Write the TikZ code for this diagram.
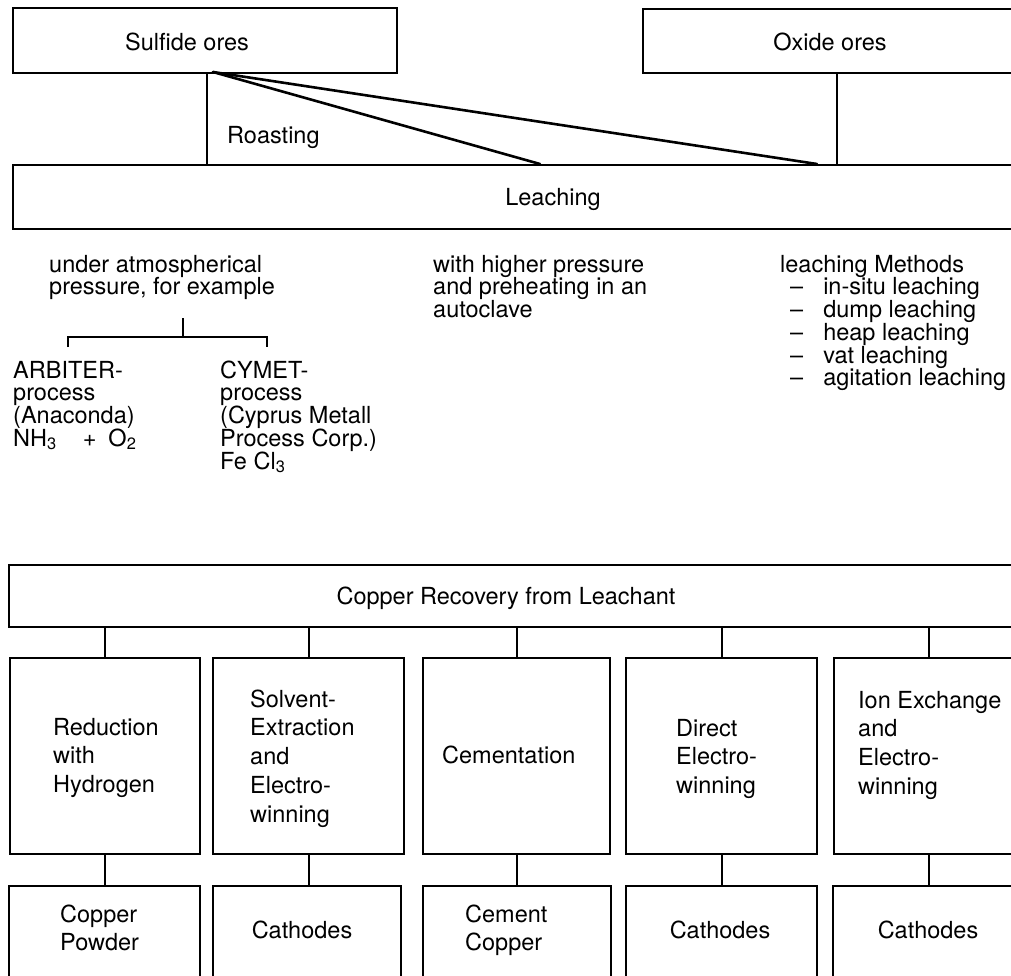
\documentclass[tikz,border=0pt]{standalone}
\usepackage{fontspec}
\setmainfont{TeX Gyre Heros}
\usetikzlibrary{calc}
\begin{document}
\begin{tikzpicture}[x=1pt,y=-1pt,
  box/.style={draw, line width=2.3pt, rectangle, inner sep=0pt, anchor=north west},
  link/.style={line width=2.1pt},
  diag/.style={line width=2.6pt, line cap=round},
  txt/.style={inner sep=0pt, font=\fontsize{23.5}{22.75}\selectfont},
  boxtxt/.style={inner sep=0pt, align=left, font=\fontsize{23.5}{28.75}\selectfont},
]
\useasboundingbox (0,0) rectangle (1011,975);

% ---------- ores and leaching ----------
\node[box, minimum width=384pt, minimum height=65pt] (sulf) at (12,7) {};
\node[box, minimum width=388pt, minimum height=64pt] (oxide) at (642,8) {};
\node[box, minimum width=1080pt, minimum height=64pt] (leach) at (12,164) {};
\node[txt, anchor=base] (sulft) at (187,50) {Sulfide ores};
\node[txt, anchor=base] (oxidet) at (830,50) {Oxide ores};
\node[txt, anchor=base] (leacht) at (553,205) {Leaching};
\node[txt, anchor=base west] (roast) at (227,143) {Roasting};

\coordinate (roastx) at (207,0);
\coordinate (fork) at (213,72);
\coordinate (hitA) at (540,164);
\coordinate (hitB) at (817,164);
\draw[link] (sulf.south -| roastx) -- (leach.north -| roastx);
\draw[link] (oxide.south) -- (oxide.south |- leach.north);
\draw[diag] (fork) -- (hitA);
\draw[diag] (fork) -- (hitB);

% ---------- leaching variants (anchored on the baseline of the last line) ----------
\node[txt, align=left, anchor=base west] (atm) at (49,294.75)
  {under atmospherical\\pressure, for example};
\node[txt, align=left, anchor=base west] (press) at (433,317.5)
  {with higher pressure\\and preheating in an\\autoclave};
\node[txt, align=left, anchor=base west] (meth) at (780,385.75)
  {leaching Methods\\
   \hspace*{10pt}–\hspace*{20pt}in-situ leaching\\
   \hspace*{10pt}–\hspace*{20pt}dump leaching\\
   \hspace*{10pt}–\hspace*{20pt}heap leaching\\
   \hspace*{10pt}–\hspace*{20pt}vat leaching\\
   \hspace*{10pt}–\hspace*{20pt}agitation leaching};

\coordinate (tA) at (183,318);
\coordinate (tB) at (183,337);
\coordinate (tL) at (68,337);
\coordinate (tR) at (267,337);
\coordinate (tLe) at (68,347);
\coordinate (tRe) at (267,347);
\draw[link] (tA) -- (tB);
\draw[link] (tLe) -- (tL) -- (tR) -- (tRe);

\node[txt, align=left, anchor=base west] (arb) at (13,446.25)
  {ARBITER-\\process\\(Anaconda)\\NH\textsubscript{3}\hspace{26pt}+\hspace{12pt}O\textsubscript{2}};
\node[txt, align=left, anchor=base west] (cym) at (220,469)
  {CYMET-\\process\\(Cyprus Metall\\Process Corp.)\\Fe Cl\textsubscript{3}};

% ---------- copper recovery ----------
\node[box, minimum width=1030pt, minimum height=62pt] (rec) at (8,564) {};
\node[txt, anchor=base] (rect) at (506,604) {Copper Recovery from Leachant};

\node[box, minimum width=190pt, minimum height=196pt] (m1) at (9,657) {};
\node[box, minimum width=191pt, minimum height=196pt] (m2) at (212,657) {};
\node[box, minimum width=187pt, minimum height=196pt] (m3) at (422,657) {};
\node[box, minimum width=191pt, minimum height=196pt] (m4) at (625,657) {};
\node[box, minimum width=190pt, minimum height=196pt] (m5) at (833,657) {};

\node[box, minimum width=191pt, minimum height=130pt] (b1) at (8,885) {};
\node[box, minimum width=188pt, minimum height=130pt] (b2) at (212,885) {};
\node[box, minimum width=188pt, minimum height=130pt] (b3) at (422,885) {};
\node[box, minimum width=191pt, minimum height=130pt] (b4) at (625,885) {};
\node[box, minimum width=190pt, minimum height=130pt] (b5) at (832,885) {};

\foreach \i in {1,...,5} {
  \draw[link] (rec.south -| m\i.north) -- (m\i.north);
  \draw[link] (m\i.south) -- (m\i.south |- b\i.north);
}

\node[boxtxt, anchor=base west] (m1t) at (53,792.5) {Reduction\\with\\Hydrogen};
\node[boxtxt, anchor=base west] (m2t) at (250,822) {Solvent-\\Extraction\\and\\Electro-\\winning};
\node[txt, anchor=base west] (m3t) at (442,763) {Cementation};
\node[boxtxt, anchor=base west] (m4t) at (676,793.5) {Direct\\Electro-\\winning};
\node[boxtxt, anchor=base west] (m5t) at (858,794.25) {Ion Exchange\\and\\Electro-\\winning};

\node[boxtxt, anchor=base west] (b1t) at (60,950.75) {Copper\\Powder};
\node[txt, anchor=base] (b2t) at (302,938) {Cathodes};
\node[boxtxt, anchor=base west] (b3t) at (465,950.75) {Cement\\Copper};
\node[txt, anchor=base] (b4t) at (720,938) {Cathodes};
\node[txt, anchor=base] (b5t) at (928,938) {Cathodes};
\end{tikzpicture}
\end{document}
